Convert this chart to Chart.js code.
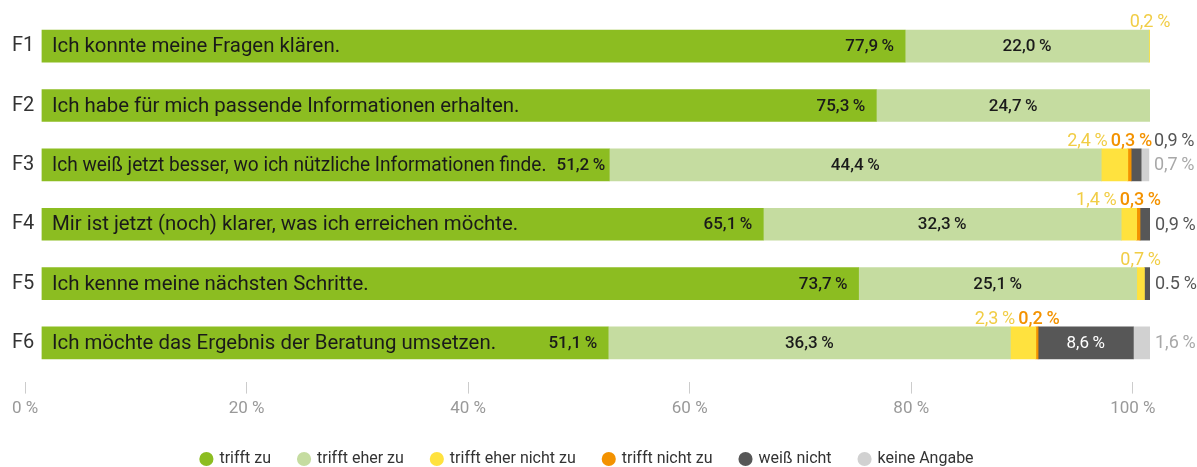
<!DOCTYPE html>
<html lang="de">
<head>
<meta charset="utf-8">
<title>Beratung – Bewertung</title>
<script src="https://cdn.jsdelivr.net/npm/chart.js@4/dist/chart.umd.min.js"></script>
<style>
  html, body { margin: 0; padding: 0; background: #fff; }
  #wrap { width: 1197px; height: 467px; position: relative; }
</style>
</head>
<body>
<div id="wrap"><canvas id="chart"></canvas></div>
<script>
const categories = ["F1", "F2", "F3", "F4", "F5", "F6"];
const statements = [
  "Ich konnte meine Fragen klären.",
  "Ich habe für mich passende Informationen erhalten.",
  "Ich weiß jetzt besser, wo ich nützliche Informationen finde.",
  "Mir ist jetzt (noch) klarer, was ich erreichen möchte.",
  "Ich kenne meine nächsten Schritte.",
  "Ich möchte das Ergebnis der Beratung umsetzen.",
];
const seriesNames = ["trifft zu", "trifft eher zu", "trifft eher nicht zu", "trifft nicht zu", "weiß nicht", "keine Angabe"];
const trifftZu = [77.9, 75.3, 51.2, 65.1, 73.7, 51.1];
const trifftEherZu = [22.0, 24.7, 44.4, 32.3, 25.1, 36.3];
const trifftEherNichtZu = [0.2, null, 2.4, 1.4, 0.7, 2.3];
const trifftNichtZu = [null, null, 0.3, 0.3, null, 0.2];
const weissNicht = [null, null, 0.9, 0.9, 0.5, 8.6];
const keineAngabe = [null, null, 0.7, null, null, 1.6];
const tickValues = [0, 20, 40, 60, 80, 100];

const series = [trifftZu, trifftEherZu, trifftEherNichtZu, trifftNichtZu, weissNicht, keineAngabe];
const colors = ["#8cbd21", "#c5dca0", "#ffe23e", "#f39200", "#575757", "#d1d1d1"];
const labelColors = ["#1a1a1a", "#1a1a1a", "#f1cd45", "#f39200", "#555555", "#a8a8a8"];
const FONT = "Roboto";

// the original writes this one value with a dot
const labelOverride = { "4-4": "0.5\u2009%" };

const fmt = (v) => v.toFixed(1).replace(".", ",") + "\u2009%";

const barLabels = {
  id: "barLabels",
  afterDatasetsDraw(chart) {
    const ctx = chart.ctx;
    ctx.save();
    categories.forEach((cat, j) => {
      const bars = series.map((s, i) => chart.getDatasetMeta(i).data[j]);
      const first = bars[0];
      const mid = first.y;
      const top = first.y - first.height / 2;
      const aboveY = top - 3;
      let barEnd = first.base;
      series.forEach((s, i) => { if (s[j]) barEnd = Math.max(barEnd, bars[i].x); });
      const text = (i) => labelOverride[i + "-" + j] || fmt(series[i][j]);

      // trifft zu value, right aligned in its segment
      ctx.textBaseline = "middle";
      ctx.font = "500 17px " + FONT;
      const w0 = ctx.measureText(text(0)).width;
      const sx = first.base + 10;
      ctx.font = "20.4px " + FONT;
      const stmtW = ctx.measureText(statements[j]).width;
      let r0 = first.x - 11;
      let maxW = stmtW;
      if (sx + stmtW + 10 > r0 - w0) {
        r0 = first.x - 4;
        maxW = Math.min(stmtW, r0 - w0 - 10 - sx);
      }

      // statement inside the bar
      ctx.textAlign = "left";
      ctx.fillStyle = "#1a1a1a";
      ctx.fillText(statements[j], sx, mid + 1, maxW);

      ctx.font = "500 17px " + FONT;
      ctx.fillStyle = labelColors[0];
      ctx.textAlign = "right";
      ctx.fillText(text(0), r0, mid + 1);

      // trifft eher zu: centred
      if (series[1][j]) {
        const b = bars[1];
        ctx.fillStyle = labelColors[1];
        ctx.textAlign = "center";
        ctx.fillText(text(1), (b.x + b.base) / 2, mid + 1);
      }

      // small segments above the bar
      ctx.textBaseline = "alphabetic";
      let orangeLeft = null;
      if (series[3][j]) {
        const b = bars[3];
        ctx.font = "500 18px " + FONT;
        ctx.fillStyle = labelColors[3];
        ctx.textAlign = "center";
        const cx = (b.x + b.base) / 2 + 2;
        ctx.fillText(text(3), cx, aboveY);
        orangeLeft = cx - ctx.measureText(text(3)).width / 2;
      }
      if (series[2][j]) {
        const b = bars[2];
        ctx.font = "18px " + FONT;
        ctx.fillStyle = labelColors[2];
        if (orangeLeft !== null) {
          ctx.textAlign = "right";
          ctx.fillText(text(2), orangeLeft - 3, aboveY);
        } else {
          ctx.textAlign = "center";
          ctx.fillText(text(2), (b.x + b.base) / 2, aboveY);
        }
      }

      // weiß nicht / keine Angabe
      ctx.font = "18px " + FONT;
      ctx.textAlign = "left";
      const endX = Math.min(barEnd, chart.chartArea.right) + 5;
      if (series[4][j]) {
        const b = bars[4];
        if (series[4][j] > 5) {
          ctx.font = "17px " + FONT;
          ctx.textAlign = "center";
          ctx.textBaseline = "middle";
          ctx.fillStyle = "#ffffff";
          ctx.fillText(text(4), (b.x + b.base) / 2, mid + 1);
          ctx.font = "18px " + FONT;
          ctx.textAlign = "left";
        } else {
          ctx.fillStyle = labelColors[4];
          if (series[5][j]) {
            ctx.textBaseline = "alphabetic";
            ctx.fillText(text(4), endX, aboveY);
          } else {
            ctx.textBaseline = "middle";
            ctx.fillText(text(4), endX, mid + 1);
          }
        }
      }
      if (series[5][j]) {
        ctx.textBaseline = "middle";
        ctx.fillStyle = labelColors[5];
        ctx.fillText(text(5), endX, mid + 1);
      }
    });
    ctx.restore();
  },
};

new Chart(document.getElementById("chart"), {
  type: "bar",
  data: {
    labels: categories,
    datasets: series.map((s, i) => ({
      label: seriesNames[i],
      data: s,
      backgroundColor: colors[i],
      borderWidth: 0,
      barThickness: 32,
      xAxisID: "x2",
    })),
  },
  options: {
    indexAxis: "y",
    responsive: true,
    maintainAspectRatio: false,
    animation: false,
    layout: { padding: { left: 25, right: 47, top: 16.5, bottom: -10 } },
    scales: {
      x: {
        min: 0,
        max: 101.55,
        afterBuildTicks: (scale) => { scale.ticks = tickValues.map((v) => ({ value: v })); },
        afterFit: (scale) => { scale.height = 50.4; },
        border: { display: false },
        grid: {
          drawOnChartArea: false,
          drawTicks: true,
          tickLength: 21,
          tickBorderDash: [0, 9, 12, 200],
          color: "#cccccc",
          lineWidth: 1,
        },
        ticks: {
          padding: 5,
          color: "#999999",
          font: { family: FONT, size: 17 },
          callback: (v) => v + " %",
        },
      },
      // bars sit on this hidden axis, shifted against the visible ticks like in the original
      x2: {
        display: false,
        stacked: true,
        min: -1.53,
        max: 100,
      },
      y: {
        stacked: true,
        border: { display: false },
        grid: { display: false },
        afterFit: (scale) => { scale.width = 0; },
        ticks: {
          mirror: true,
          padding: -13,
          color: "#333333",
          font: { family: FONT, size: 20 },
        },
      },
    },
    plugins: {
      legend: {
        position: "bottom",
        labels: {
          usePointStyle: true,
          pointStyle: "circle",
          boxWidth: 10,
          boxHeight: 10,
          padding: 28,
          color: "#333333",
          font: { family: FONT, size: 16 },
        },
      },
      tooltip: { enabled: false },
    },
  },
  plugins: [barLabels],
});
</script>
</body>
</html>
